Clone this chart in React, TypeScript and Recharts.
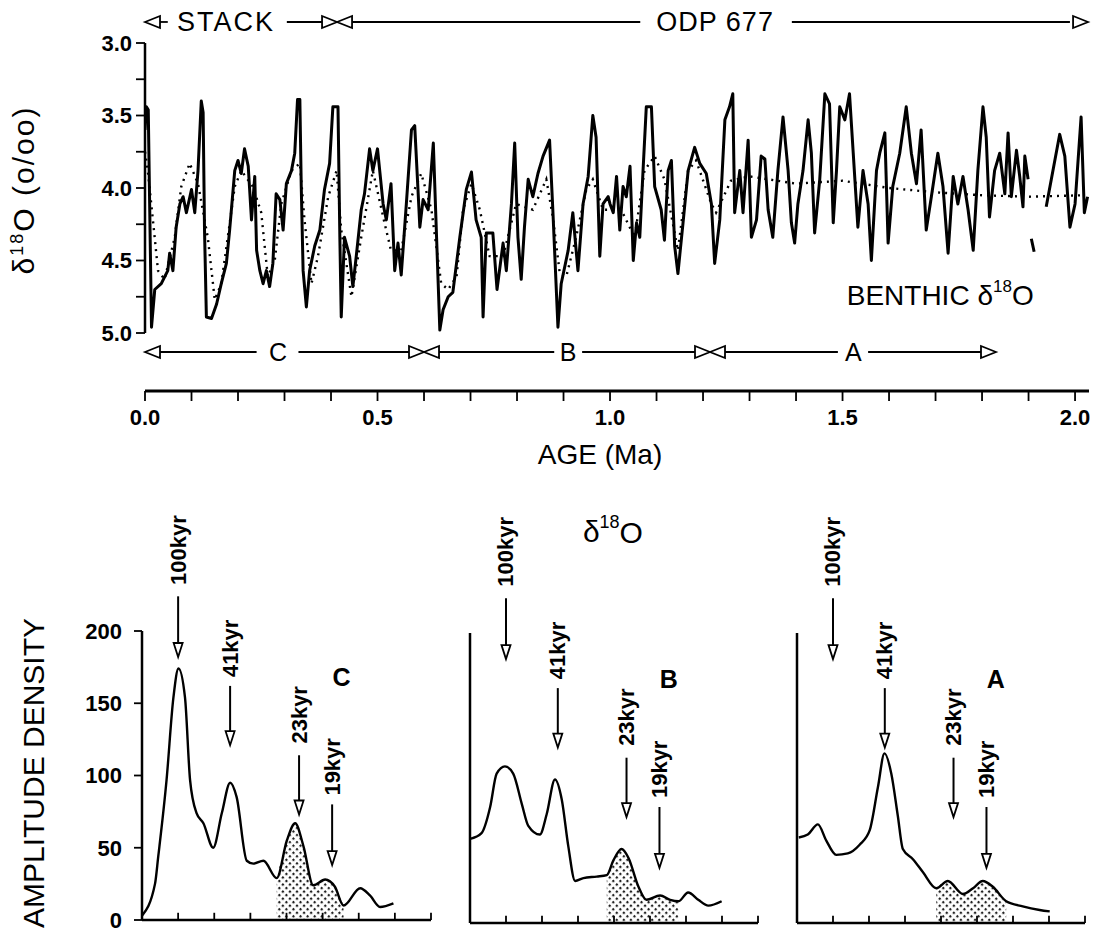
import React from 'react';
import { ComposedChart, Line, Area, XAxis, YAxis, ReferenceLine, ReferenceDot } from 'recharts';

const FONT = '"Liberation Sans", Arial, sans-serif';

// ODP 677 benthic d18O, [age (Ma), d18O (permil)]; null = gap in record
const odpRecord: [number, number | null][] = [
  [0.0, 3.6], [0.003, 3.44], [0.007, 3.46], [0.01, 4.11], [0.014, 4.96], [0.021, 4.7], [0.035, 4.66],
  [0.049, 4.57], [0.053, 4.45], [0.06, 4.57], [0.067, 4.27], [0.075, 4.11], [0.082, 4.06], [0.089, 4.17],
  [0.1, 4.01], [0.107, 4.17], [0.114, 3.88], [0.121, 3.4], [0.125, 3.48], [0.128, 4.29], [0.132, 4.89],
  [0.143, 4.9], [0.154, 4.8], [0.164, 4.66], [0.175, 4.52], [0.182, 4.29], [0.193, 3.88], [0.2, 3.81],
  [0.207, 3.9], [0.214, 3.73], [0.222, 3.85], [0.229, 4.22], [0.236, 3.92], [0.24, 4.43], [0.247, 4.57],
  [0.254, 4.66], [0.261, 4.57], [0.268, 4.68], [0.275, 4.52], [0.282, 4.04], [0.29, 4.08], [0.297, 4.29],
  [0.304, 3.97], [0.315, 3.88], [0.322, 3.76], [0.328, 3.39], [0.333, 3.39], [0.336, 3.99], [0.34, 4.57],
  [0.347, 4.82], [0.354, 4.57], [0.365, 4.4], [0.376, 4.29], [0.386, 4.01], [0.397, 3.83], [0.404, 3.44],
  [0.415, 3.44], [0.419, 4.34], [0.422, 4.89], [0.429, 4.34], [0.44, 4.47], [0.447, 4.68], [0.455, 4.45],
  [0.465, 4.15], [0.472, 4.04], [0.483, 3.73], [0.49, 3.88], [0.5, 3.73], [0.512, 4.11], [0.519, 4.22],
  [0.529, 3.97], [0.537, 4.57], [0.544, 4.38], [0.551, 4.6], [0.562, 4.11], [0.573, 3.6], [0.58, 3.57],
  [0.587, 4.01], [0.591, 4.27], [0.598, 4.08], [0.609, 4.15], [0.62, 3.69], [0.627, 4.34], [0.634, 4.98],
  [0.641, 4.84], [0.652, 4.75], [0.662, 4.72], [0.677, 4.34], [0.691, 4.01], [0.702, 3.89], [0.712, 4.22],
  [0.723, 4.34], [0.727, 4.89], [0.734, 4.31], [0.748, 4.31], [0.757, 4.7], [0.77, 4.38], [0.777, 4.57],
  [0.788, 4.11], [0.795, 3.69], [0.802, 4.34], [0.809, 4.63], [0.816, 4.27], [0.824, 3.94], [0.834, 4.06],
  [0.845, 3.9], [0.856, 3.78], [0.87, 3.67], [0.877, 4.15], [0.888, 4.96], [0.895, 4.66], [0.91, 4.43],
  [0.92, 4.17], [0.931, 4.57], [0.942, 4.11], [0.953, 3.92], [0.963, 3.5], [0.97, 3.65], [0.978, 4.47],
  [0.985, 4.11], [0.996, 4.06], [1.0, 4.11], [1.007, 4.17], [1.014, 3.92], [1.021, 4.29], [1.028, 3.99],
  [1.035, 4.06], [1.043, 3.85], [1.05, 4.5], [1.057, 4.24], [1.064, 4.34], [1.071, 3.88], [1.078, 3.44],
  [1.089, 3.44], [1.096, 3.99], [1.11, 4.15], [1.117, 4.36], [1.125, 3.88], [1.132, 3.81], [1.139, 4.4],
  [1.146, 4.59], [1.157, 4.24], [1.168, 3.88], [1.182, 3.72], [1.193, 3.83], [1.207, 3.9], [1.218, 4.11],
  [1.225, 4.52], [1.236, 4.22], [1.247, 3.53], [1.257, 3.44], [1.264, 3.35], [1.268, 4.17], [1.279, 3.88],
  [1.286, 4.17], [1.297, 3.67], [1.304, 4.34], [1.315, 4.22], [1.325, 3.78], [1.333, 3.8], [1.34, 4.15],
  [1.35, 4.34], [1.361, 3.88], [1.372, 3.51], [1.383, 3.88], [1.39, 4.24], [1.397, 4.38], [1.404, 4.11],
  [1.415, 3.88], [1.426, 3.53], [1.433, 3.76], [1.44, 4.31], [1.451, 3.94], [1.462, 3.35], [1.472, 3.42],
  [1.48, 4.24], [1.487, 3.88], [1.494, 3.44], [1.505, 3.53], [1.515, 3.35], [1.523, 3.76], [1.533, 4.27],
  [1.544, 3.88], [1.555, 4.11], [1.562, 4.5], [1.573, 3.88], [1.58, 3.76], [1.591, 3.62], [1.598, 4.38],
  [1.608, 3.99], [1.623, 3.76], [1.637, 3.44], [1.648, 3.76], [1.659, 3.97], [1.669, 3.6], [1.68, 4.29],
  [1.691, 4.06], [1.705, 3.76], [1.716, 3.99], [1.727, 4.45], [1.738, 3.92], [1.748, 4.11], [1.759, 3.92],
  [1.77, 4.15], [1.781, 4.43], [1.791, 3.88], [1.802, 3.44], [1.809, 3.65], [1.816, 4.2], [1.827, 3.88],
  [1.838, 3.76], [1.849, 4.04], [1.856, 3.62], [1.863, 4.06], [1.874, 3.74], [1.881, 3.92], [1.888, 4.13],
  [1.892, 3.78], [1.899, 3.94], [1.902, null], [1.906, 4.35], [1.912, 4.44], [1.92, null], [1.938, 4.13],
  [1.949, 3.94], [1.967, 3.63], [1.978, 3.78], [1.989, 4.27], [2.0, 4.11], [2.013, 3.51], [2.02, 4.17],
  [2.027, 4.06],
];

// smoothed stack (dotted)
const stackRecord: [number, number][] = [
  [0.0, 3.75], [0.006, 3.88], [0.017, 4.22], [0.028, 4.57], [0.042, 4.63], [0.064, 4.34], [0.078, 3.99],
  [0.096, 3.83], [0.114, 3.97], [0.135, 4.34], [0.15, 4.77], [0.164, 4.66], [0.178, 4.34], [0.193, 3.99],
  [0.207, 3.88], [0.232, 3.99], [0.25, 4.17], [0.264, 4.61], [0.279, 4.5], [0.293, 4.11], [0.315, 3.88],
  [0.333, 3.83], [0.343, 4.22], [0.358, 4.66], [0.372, 4.47], [0.394, 4.06], [0.412, 3.88], [0.422, 4.29],
  [0.444, 4.75], [0.465, 4.34], [0.49, 3.88], [0.515, 4.24], [0.529, 4.43], [0.551, 4.43], [0.573, 4.06],
  [0.594, 3.9], [0.616, 4.15], [0.637, 4.66], [0.652, 4.7], [0.67, 4.61], [0.684, 4.15], [0.702, 3.97],
  [0.72, 4.15], [0.741, 4.47], [0.77, 4.47], [0.798, 4.11], [0.834, 4.15], [0.863, 3.94], [0.877, 4.2],
  [0.892, 4.59], [0.906, 4.61], [0.927, 4.34], [0.949, 4.01], [0.963, 3.94], [0.985, 4.15], [1.024, 4.15],
  [1.053, 4.34], [1.074, 3.88], [1.096, 3.78], [1.117, 3.94], [1.146, 4.43], [1.168, 3.88], [1.185, 3.81],
  [1.218, 4.11], [1.228, 4.17], [1.26, 3.95], [1.3, 3.92], [1.4, 3.97], [1.5, 3.95], [1.6, 4.0],
  [1.7, 4.03], [1.8, 4.05], [1.9, 4.06], [2.02, 4.05],
];

const ageTicks = [0, 0.1, 0.2, 0.3, 0.4, 0.5, 0.6, 0.7, 0.8, 0.9, 1.0, 1.1, 1.2, 1.3, 1.4, 1.5, 1.6, 1.7, 1.8, 1.9, 2.0];
const ageLabels = ['0.0', '0.5', '1.0', '1.5', '2.0'];
const d18oTicks = [3, 3.25, 3.5, 3.75, 4, 4.25, 4.5, 4.75, 5];
const d18oLabels = ['3.0', '3.5', '4.0', '4.5', '5.0'];

// amplitude spectra, [frequency (cycles/kyr), amplitude density]
const spectrumC: [number, number][] = [
  [0, 3], [0.0036, 25], [0.0045, 44], [0.0068, 97], [0.0087, 154], [0.0101, 174], [0.0119, 154],
  [0.0133, 97], [0.0151, 74], [0.017, 67], [0.0197, 50], [0.0221, 74], [0.0244, 95], [0.0262, 85],
  [0.029, 41], [0.0308, 39], [0.0336, 41], [0.0373, 29], [0.0401, 55], [0.0424, 67], [0.0447, 51],
  [0.0474, 24], [0.0507, 28], [0.0534, 23], [0.0558, 10], [0.0604, 22], [0.0631, 17], [0.0659, 9],
  [0.0696, 11.5],
];
const spectrumB: [number, number][] = [
  [0, 58], [0.0032, 62], [0.0056, 80], [0.0074, 103], [0.0097, 108], [0.012, 103], [0.0144, 82],
  [0.0162, 67], [0.0194, 61], [0.0213, 75], [0.0236, 99], [0.0255, 85], [0.0273, 53], [0.0292, 29],
  [0.0315, 31], [0.0352, 32], [0.038, 33], [0.0398, 43], [0.0421, 51], [0.044, 45], [0.0468, 25],
  [0.049, 16], [0.0528, 19], [0.0556, 16], [0.0579, 15], [0.0606, 21], [0.0634, 16], [0.0662, 12],
  [0.0699, 15],
];
const spectrumA: [number, number][] = [
  [0.0005, 59], [0.003, 61], [0.0058, 68], [0.0081, 57], [0.0109, 47], [0.0141, 48], [0.0174, 54],
  [0.0202, 64], [0.0225, 94], [0.0243, 117], [0.0262, 103], [0.028, 74], [0.0294, 51], [0.0322, 44],
  [0.035, 35], [0.0387, 24], [0.0419, 29], [0.0461, 20], [0.0489, 24], [0.0516, 29], [0.0544, 25],
  [0.0581, 15], [0.0627, 11.5], [0.0674, 9], [0.0702, 8],
];
const shadeC: [number, number] = [0.0373, 0.0558];
const shadeB: [number, number] = [0.038, 0.0579];
const shadeA: [number, number] = [0.0387, 0.0581];

const periods = ['100kyr', '41kyr', '23kyr', '19kyr'];
const periodKyr = [100, 41, 23, 19];
const freqTicks = [0, 0.01, 0.02, 0.03, 0.04, 0.05, 0.06, 0.07, 0.08];
const ampTicks = [0, 50, 100, 150, 200];

// ---------- shapes ----------
const head = (dir: 'left' | 'right' | 'down', len = 15, half = 6) => (p: any) => {
  const { cx, cy } = p;
  let d = '';
  if (dir === 'left') d = `M${cx},${cy} L${cx + len},${cy - half} L${cx + len},${cy + half} Z`;
  if (dir === 'right') d = `M${cx},${cy} L${cx - len},${cy - half} L${cx - len},${cy + half} Z`;
  if (dir === 'down') d = `M${cx},${cy} L${cx - half},${cy - len} L${cx + half},${cy - len} Z`;
  return <path d={d} fill="#fff" stroke="#000" strokeWidth={1.8} strokeLinejoin="miter" />;
};

const textAt = (content: React.ReactNode, size: number, opts: any = {}) => (p: any) => (
  <text
    x={p.cx}
    y={p.cy}
    textAnchor="middle"
    dominantBaseline="central"
    fontFamily={FONT}
    fontSize={size}
    fontWeight={opts.weight || 400}
    letterSpacing={opts.spacing || 0}
    fill="#000"
    transform={opts.rotate ? `rotate(-90 ${p.cx} ${p.cy})` : undefined}
  >
    {content}
  </text>
);

// ---------- top panel ----------
function RecordPanel() {
  const odpRows = odpRecord.map(([age, d]) => ({ age, d }));
  const stackRows = stackRecord.map(([age, d]) => ({ age, d }));
  const topY = 2.855;
  const botY = 5.131;
  const topSegs = [[0.032, 0.049], [0.305, 0.381], [0.445, 1.065], [1.391, 1.989]];
  const botSegs = [[0.032, 0.24], [0.33, 0.568], [0.632, 0.88], [0.94, 1.183], [1.247, 1.49], [1.555, 1.798]];
  const line = { stroke: '#000', strokeWidth: 1.8 };
  return (
    <div style={{ position: 'absolute', left: 0, top: 0 }}>
      <ComposedChart width={1095} height={480} margin={{ top: 14, right: 6, left: 85, bottom: 39 }}>
        <XAxis
          type="number"
          dataKey="age"
          domain={[0, 2.03]}
          allowDataOverflow
          ticks={ageTicks}
          height={50}
          tickSize={10}
          tickMargin={8}
          interval={0}
          tickFormatter={(v: number) => (ageLabels.includes(v.toFixed(1)) && Math.abs(v * 2 - Math.round(v * 2)) < 1e-6 ? v.toFixed(1) : '')}
          axisLine={{ stroke: '#000', strokeWidth: 3 }}
          tickLine={{ stroke: '#000', strokeWidth: 1.8 }}
          tick={{ fill: '#000', fontSize: 22, fontWeight: 700, fontFamily: FONT }}
        />
        <YAxis
          type="number"
          reversed
          domain={[2.8, 5.4]}
          allowDataOverflow
          ticks={d18oTicks}
          interval={0}
          width={60}
          axisLine={false}
          tickSize={9}
          tickMargin={4}
          tickFormatter={(v: number) => (d18oLabels.includes(v.toFixed(1)) && Math.abs(v * 2 - Math.round(v * 2)) < 1e-6 ? v.toFixed(1) : '')}
          tickLine={{ stroke: '#000', strokeWidth: 1.8 }}
          tick={{ fill: '#000', fontSize: 22, fontWeight: 700, fontFamily: FONT }}
        />
        <ReferenceLine segment={[{ x: 0, y: 3 }, { x: 0, y: 5 }]} stroke="#000" strokeWidth={2.5} />
        <Line
          data={stackRows}
          dataKey="d"
          type="linear"
          stroke="#000"
          strokeWidth={2.4}
          strokeDasharray="2 5"
          dot={false}
          activeDot={false}
          isAnimationActive={false}
        />
        <Line
          data={odpRows}
          dataKey="d"
          type="linear"
          stroke="#000"
          strokeWidth={3}
          strokeLinejoin="round"
          dot={false}
          activeDot={false}
          connectNulls={false}
          isAnimationActive={false}
        />
        {topSegs.map((s, i) => (
          <ReferenceLine key={'ts' + i} segment={[{ x: s[0], y: topY }, { x: s[1], y: topY }]} {...line} />
        ))}
        {botSegs.map((s, i) => (
          <ReferenceLine key={'bs' + i} segment={[{ x: s[0], y: botY }, { x: s[1], y: botY }]} {...line} />
        ))}
        <ReferenceDot x={0} y={topY} r={1} shape={head('left')} />
        <ReferenceDot x={0.413} y={topY} r={1} shape={head('right')} />
        <ReferenceDot x={0.413} y={topY} r={1} shape={head('left')} />
        <ReferenceDot x={2.028} y={topY} r={1} shape={head('right')} />
        <ReferenceDot x={0} y={botY} r={1} shape={head('left')} />
        <ReferenceDot x={0.6} y={botY} r={1} shape={head('right')} />
        <ReferenceDot x={0.6} y={botY} r={1} shape={head('left')} />
        <ReferenceDot x={1.215} y={botY} r={1} shape={head('right')} />
        <ReferenceDot x={1.215} y={botY} r={1} shape={head('left')} />
        <ReferenceDot x={1.83} y={botY} r={1} shape={head('right')} />
        <ReferenceDot x={0.174} y={topY} r={1} shape={textAt('STACK', 27, { spacing: 2 })} />
        <ReferenceDot x={1.226} y={topY} r={1} shape={textAt('ODP 677', 27, { spacing: 1 })} />
        <ReferenceDot x={0.286} y={botY} r={1} shape={textAt('C', 25)} />
        <ReferenceDot x={0.91} y={botY} r={1} shape={textAt('B', 25)} />
        <ReferenceDot x={1.523} y={botY} r={1} shape={textAt('A', 25)} />
        <ReferenceDot
          x={1.71}
          y={4.74}
          r={1}
          shape={textAt(
            <>
              BENTHIC δ<tspan fontSize={17} dy={-9}>18</tspan>
              <tspan dy={9}>O</tspan>
            </>,
            28
          )}
        />
      </ComposedChart>
    </div>
  );
}

// ---------- spectrum panels ----------
type PanelProps = {
  id: string;
  spectrum: [number, number][];
  shade: [number, number];
  letter: string;
  left: number;
  width: number;
  plotLeft: number;
  plotRight: number;
  topY: number;
  zeroY: number;
  labelled: boolean;
  title?: boolean;
};

function SpectrumPanel(p: PanelProps) {
  const rows = p.spectrum.map(([f, a]) => ({
    f,
    amp: a,
    shade: f >= p.shade[0] - 1e-9 && f <= p.shade[1] + 1e-9 ? a : null,
  }));
  const chartTop = 480;
  const height = 456;
  const pxPerAmp = (p.zeroY - p.topY) / 200;
  const plotTop = p.zeroY - 300 * pxPerAmp;
  const yW = p.labelled ? 60 : 0;
  const margin = {
    top: plotTop - chartTop,
    bottom: chartTop + height - p.zeroY,
    left: p.plotLeft - p.left - yW,
    right: p.left + p.width - p.plotRight,
  };
  const textY = [256, 188, 142, 106];
  const lineTop = [224, 162, 114, 80];
  const tipY = [182, 121, 73, 38];
  const headAmp = 14 / pxPerAmp;
  return (
    <div style={{ position: 'absolute', left: p.left, top: chartTop }}>
      <ComposedChart width={p.width} height={height} data={rows} margin={margin}>
        <XAxis type="number" dataKey="f" domain={[0, 0.08]} allowDataOverflow hide />
        <YAxis
          type="number"
          domain={[0, 300]}
          allowDataOverflow
          hide={!p.labelled}
          width={yW}
          ticks={ampTicks}
          interval={0}
          axisLine={false}
          tickSize={8}
          tickMargin={12}
          tickLine={{ stroke: '#000', strokeWidth: 1.8 }}
          tick={{ fill: '#000', fontSize: 22, fontWeight: 700, fontFamily: FONT }}
        />
        <Area
          dataKey="shade"
          type="monotone"
          stroke="none"
          fill={`url(#${p.id})`}
          fillOpacity={1}
          connectNulls={false}
          dot={false}
          activeDot={false}
          isAnimationActive={false}
        />
        <Line
          dataKey="amp"
          type="monotone"
          stroke="#000"
          strokeWidth={2.4}
          dot={false}
          activeDot={false}
          isAnimationActive={false}
        />
        <ReferenceLine segment={[{ x: 0, y: 0 }, { x: 0, y: 200 }]} stroke="#000" strokeWidth={2.5} />
        <ReferenceLine segment={[{ x: 0, y: 0 }, { x: 0.08, y: 0 }]} stroke="#000" strokeWidth={2.5} />
        {freqTicks.map((f) => (
          <ReferenceLine key={'ft' + f} segment={[{ x: f, y: 0 }, { x: f, y: 5 }]} stroke="#000" strokeWidth={1.8} />
        ))}
        {periods.map((name, i) => {
          const f = 1 / periodKyr[i];
          return (
            <React.Fragment key={name}>
              <ReferenceLine segment={[{ x: f, y: lineTop[i] }, { x: f, y: tipY[i] + headAmp }]} stroke="#000" strokeWidth={2} />
              <ReferenceDot x={f} y={tipY[i]} r={1} shape={head('down', 14, 4.5)} />
              <ReferenceDot x={f} y={textY[i]} r={1} shape={textAt(name, 22, { weight: 700, rotate: true })} />
            </React.Fragment>
          );
        })}
        <ReferenceDot x={0.0552} y={168} r={1} shape={textAt(p.letter, 25, { weight: 700 })} />
        {p.title && (
          <ReferenceDot
            x={0.0397}
            y={270}
            r={1}
            shape={textAt(
              <>
                δ<tspan fontSize={18} dy={-10}>18</tspan>
                <tspan dy={10}>O</tspan>
              </>,
              30
            )}
          />
        )}
      </ComposedChart>
    </div>
  );
}

function Pattern({ id }: { id: string }) {
  return (
    <pattern id={id} width={5} height={5} patternUnits="userSpaceOnUse" patternTransform="rotate(45)">
      <rect x={0} y={0} width={2.2} height={2.2} fill="#222" />
    </pattern>
  );
}

export default function App() {
  return (
    <div
      style={{
        position: 'absolute',
        left: 0,
        top: 0,
        width: 1095,
        height: 936,
        background: '#fff',
        fontFamily: FONT,
        color: '#000',
        overflow: 'hidden',
      }}
    >
      <svg width={0} height={0} style={{ position: 'absolute' }}>
        <defs>
          <Pattern id="dotsC" />
          <Pattern id="dotsB" />
          <Pattern id="dotsA" />
        </defs>
      </svg>
      <RecordPanel />
      <SpectrumPanel id="dotsC" spectrum={spectrumC} shade={shadeC} letter="C" left={0} width={440} plotLeft={142} plotRight={431} topY={631} zeroY={920} labelled />
      <SpectrumPanel id="dotsB" spectrum={spectrumB} shade={shadeB} letter="B" left={440} width={330} plotLeft={470} plotRight={758} topY={633} zeroY={923} labelled={false} title />
      <SpectrumPanel id="dotsA" spectrum={spectrumA} shade={shadeA} letter="A" left={770} width={325} plotLeft={797} plotRight={1085} topY={633} zeroY={923} labelled={false} />

      <div
        style={{
          position: 'absolute',
          left: 24,
          top: 190,
          transform: 'translate(-50%, -50%) rotate(-90deg)',
          whiteSpace: 'nowrap',
          fontSize: 30,
          letterSpacing: 2,
        }}
      >
        δ<sup style={{ fontSize: '0.6em' }}>18</sup>O (o/oo)
      </div>
      <div
        style={{
          position: 'absolute',
          left: 600,
          top: 455,
          transform: 'translate(-50%, -50%)',
          whiteSpace: 'nowrap',
          fontSize: 28,
        }}
      >
        AGE (Ma)
      </div>
      <div
        style={{
          position: 'absolute',
          left: 34,
          top: 773,
          transform: 'translate(-50%, -50%) rotate(-90deg)',
          whiteSpace: 'nowrap',
          fontSize: 30,
        }}
      >
        AMPLITUDE DENSITY
      </div>
    </div>
  );
}
